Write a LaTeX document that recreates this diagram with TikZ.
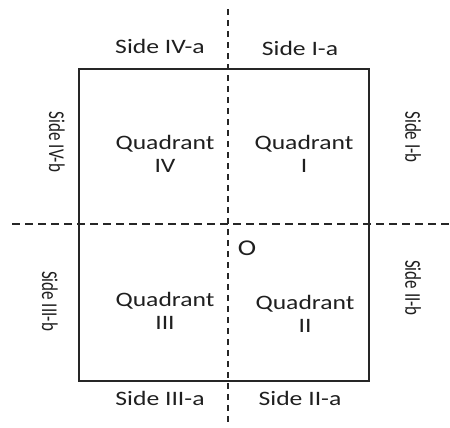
\documentclass[tikz,border=0pt]{standalone}
\usepackage{fontspec}
\setmainfont{Carlito}
\usepackage{graphicx}
\newcommand{\hs}[1]{\scalebox{1.25}[1]{#1}}
\newcommand{\vs}[1]{\rotatebox{-90}{\scalebox{0.83}[1.1]{#1}}}
\begin{document}
\begin{tikzpicture}[x=1bp,y=-1bp,
  lbl/.style={inner sep=0pt, text=black!88, font=\fontsize{20.5bp}{23bp}\selectfont, align=center},
  frame/.style={draw=black!85, line width=1.5bp},
  axisline/.style={draw=black!85, line width=1.3bp}]
\useasboundingbox (0,0) rectangle (450,427);
% square frame
\node[frame, minimum width=290bp, minimum height=312bp, inner sep=0pt] (box) at (224,225) {};
% axes
\coordinate (vtop) at (228,9);
\coordinate (vbot) at (228,427);
\coordinate (hleft) at (12,224);
\coordinate (hright) at (450,224);
\draw[axisline, dash pattern=on 6bp off 5bp] (vtop) -- (vbot);
\draw[axisline, dash pattern=on 8bp off 5bp] (hleft) -- (hright);
% side labels, top and bottom
\node[lbl] (s4a) at (160,46) {\hs{Side IV-a}};
\node[lbl] (s1a) at (300,48) {\hs{Side I-a}};
\node[lbl] (s3a) at (160,398) {\hs{Side III-a}};
\node[lbl] (s2a) at (300,398) {\hs{Side II-a}};
% side labels, left and right
\node[lbl] (s4b) at (57,142) {\vs{Side IV-b}};
\node[lbl] (s1b) at (413,137) {\vs{Side I-b}};
\node[lbl] (s3b) at (50,301) {\vs{Side III-b}};
\node[lbl] (s2b) at (413,288) {\vs{Side II-b}};
% quadrants
\node[lbl] (q4) at (165,153.5) {\hs{Quadrant}\\\hs{IV}};
\node[lbl] (q1) at (304,153.5) {\hs{Quadrant}\\\hs{I}};
\node[lbl] (q3) at (165,310.5) {\hs{Quadrant}\\\hs{III}};
\node[lbl] (q2) at (305,313.5) {\hs{Quadrant}\\\hs{II}};
% origin
\node[lbl] (o) at (247,248) {\scalebox{1.35}[1.1]{O}};
\end{tikzpicture}
\end{document}
